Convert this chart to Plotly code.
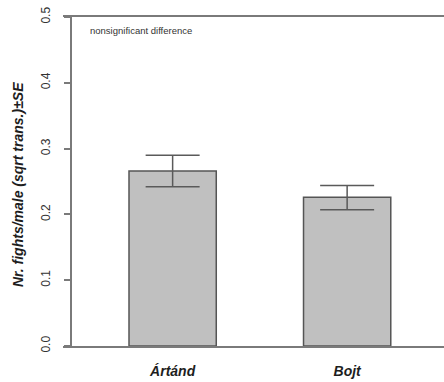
import plotly.graph_objects as go

categories = ["Ártánd", "Bojt"]
means = [0.266, 0.226]
se_upper = [0.024, 0.018]
se_lower = [0.024, 0.019]
y_ticks = [0.0, 0.1, 0.2, 0.3, 0.4, 0.5]
y_ticktext = ["0.0", "0.1", "0.2", "0.3", "0.4", "0.5"]
x_pos = [1.5, 3.5]

W, H = 444, 382
plot_w = 381

fig = go.Figure()
fig.add_trace(go.Bar(
    x=x_pos, y=means, width=1.0,
    marker=dict(color="#c0c0c0", line=dict(color="#555555", width=1.5)),
    error_y=dict(type="data", array=se_upper, arrayminus=se_lower,
                 color="#5a5a5a", thickness=1.5, width=27),
    showlegend=False,
))

fig.update_layout(
    width=W, height=H,
    margin=dict(l=63, r=0, t=17, b=36, pad=0),
    paper_bgcolor="white", plot_bgcolor="white",
    font=dict(family="Liberation Sans, Arial, sans-serif", color="#333333"),
    xaxis=dict(
        range=[0.2436, 4.61], domain=[0, 1],
        tickvals=x_pos, ticktext=categories,
        showline=True, mirror=True, linecolor="#7a7a7a", linewidth=1.5,
        ticks="", showgrid=False, zeroline=False,
        tickfont=dict(size=14, color="#1e1e1e", family="Liberation Sans, Arial, sans-serif", weight="bold", style="italic"),
        ticklabelstandoff=11,
    ),
    yaxis=dict(
        range=[0, 0.5], anchor="free", position=8 / plot_w,
        tickvals=y_ticks, ticktext=y_ticktext, tickangle=-90,
        showline=True, linecolor="#7a7a7a", linewidth=1.5,
        ticks="outside", ticklen=6, tickcolor="#7a7a7a", tickwidth=1.5,
        showgrid=False, zeroline=False,
        tickfont=dict(size=12, color="#333333"),
        ticklabelstandoff=9,
    ),
    annotations=[
        dict(text="Nr. fights/male (sqrt trans.)±SE", textangle=-90,
             xref="paper", yref="paper", x=(18 - 63) / plot_w, y=(346 - 185) / 329,
             xanchor="center", yanchor="middle", showarrow=False,
             font=dict(size=14, color="#1e1e1e", weight="bold", style="italic")),
        dict(text="nonsignificant difference",
             xref="paper", yref="paper", x=(88 - 63) / plot_w, y=(346 - 31) / 329,
             xanchor="left", yanchor="middle", showarrow=False,
             font=dict(size=9.5, color="#333333")),
    ],
)

fig.write_html("out.html",
               config={"displayModeBar": False},
               post_script="document.body.style.margin='0';document.body.style.overflow='hidden';")
